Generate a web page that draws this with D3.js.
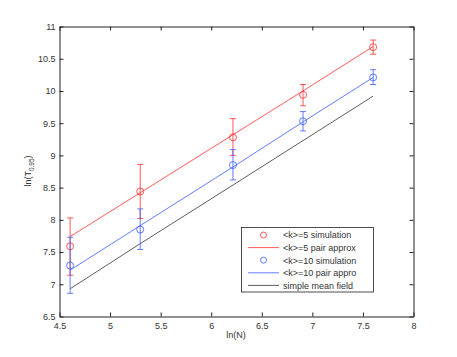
<!DOCTYPE html>
<html>
<head>
<meta charset="utf-8">
<script src="https://cdn.jsdelivr.net/npm/d3@7"></script>
<style>
body { margin: 0; background: #fff; }
text { font-family: "Liberation Sans", Arial, sans-serif; }
</style>
</head>
<body>
<svg width="457" height="357"></svg>
<script>
// ln(N) for N = 100, 200, 500, 1000, 2000
const lnN = [4.605, 5.298, 6.215, 6.908, 7.601];

const k5Sim = [7.59, 8.44, 9.28, 9.94, 10.68];
const k5Lo = [7.14, 8.02, 9.00, 9.77, 10.57];
const k5Hi = [8.03, 8.86, 9.57, 10.10, 10.79];
const k5Pair = [7.74, 8.42, 9.32, 10.00, 10.69];

const k10Sim = [7.29, 7.85, 8.85, 9.53, 10.21];
const k10Lo = [6.86, 7.54, 8.62, 9.38, 10.10];
const k10Hi = [7.73, 8.17, 9.09, 9.68, 10.33];
const k10Pair = [7.22, 7.91, 8.82, 9.52, 10.21];

const meanField = [6.93, 7.63, 8.54, 9.23, 9.92];

const xTicks = [4.5, 5, 5.5, 6, 6.5, 7, 7.5, 8];
const yTicks = [6.5, 7, 7.5, 8, 8.5, 9, 9.5, 10, 10.5, 11];

const legendLabels = ['<k>=5 simulation', '<k>=5 pair approx', '<k>=10 simulation', '<k>=10 pair appro', 'simple mean field'];

const red = '#ff3030', blue = '#3a5cff', black = '#333';

const svg = d3.select('svg');
const mLeft = 59.5, mRight = 413.5, mTop = 26.5, mBottom = 316.5;
const fs = 9;

const x = d3.scaleLinear().domain([4.5, 8]).range([mLeft, mRight]);
const y = d3.scaleLinear().domain([6.5, 11]).range([mBottom, mTop]);

// axes with inward ticks
const axStyle = g => {
  g.selectAll('path').attr('stroke', '#222');
  g.selectAll('line').attr('stroke', '#222');
  g.selectAll('text').attr('fill', '#333').attr('font-size', fs);
};
svg.append('g').attr('transform', `translate(0,${mBottom})`)
  .call(d3.axisBottom(x).tickValues(xTicks).tickSizeInner(-4).tickSizeOuter(0).tickPadding(6).tickFormat(d3.format('')))
  .call(axStyle);
svg.append('g').attr('transform', `translate(0,${mTop})`)
  .call(d3.axisTop(x).tickValues(xTicks).tickSizeInner(-4).tickSizeOuter(0).tickFormat(''))
  .call(axStyle);
svg.append('g').attr('transform', `translate(${mLeft},0)`)
  .call(d3.axisLeft(y).tickValues(yTicks).tickSizeInner(-4).tickSizeOuter(0).tickPadding(4).tickFormat(d3.format('')))
  .call(axStyle);
svg.append('g').attr('transform', `translate(${mRight},0)`)
  .call(d3.axisRight(y).tickValues(yTicks).tickSizeInner(-4).tickSizeOuter(0).tickFormat(''))
  .call(axStyle);

const line = d3.line().x((d, i) => x(lnN[i])).y(d => y(d));

function drawSeries(sim, lo, hi, pair, color) {
  svg.append('path').datum(pair).attr('d', line)
    .attr('fill', 'none').attr('stroke', color).attr('stroke-width', 0.8);
  const g = svg.append('g').attr('stroke', color).attr('fill', 'none').attr('stroke-width', 0.8);
  lnN.forEach((v, i) => {
    const cx = x(v);
    g.append('line').attr('x1', cx).attr('x2', cx).attr('y1', y(lo[i])).attr('y2', y(hi[i]));
    g.append('line').attr('x1', cx - 3).attr('x2', cx + 3).attr('y1', y(lo[i])).attr('y2', y(lo[i]));
    g.append('line').attr('x1', cx - 3).attr('x2', cx + 3).attr('y1', y(hi[i])).attr('y2', y(hi[i]));
    g.append('circle').attr('cx', cx).attr('cy', y(sim[i])).attr('r', 3.5);
  });
}

svg.append('path').datum(meanField).attr('d', line)
  .attr('fill', 'none').attr('stroke', black).attr('stroke-width', 0.8);
drawSeries(k5Sim, k5Lo, k5Hi, k5Pair, red);
drawSeries(k10Sim, k10Lo, k10Hi, k10Pair, blue);

// labels
svg.append('text').attr('x', 236).attr('y', 338).attr('text-anchor', 'middle')
  .attr('font-size', fs).attr('fill', '#333').text('ln(N)');
const yl = svg.append('text').attr('transform', 'translate(31,171) rotate(-90)')
  .attr('text-anchor', 'middle').attr('font-size', fs).attr('fill', '#333');
yl.append('tspan').text('ln(T');
yl.append('tspan').attr('font-size', 6.5).attr('dy', 3).text('0.95');
yl.append('tspan').attr('dy', -3).text(')');

// legend
const lg = svg.append('g');
lg.append('rect').attr('x', 241.5).attr('y', 227.5).attr('width', 132).attr('height', 64.5)
  .attr('fill', '#fff').attr('stroke', '#222').attr('stroke-width', 0.8);
const kinds = ['m', 'l', 'm', 'l', 'l'];
const lcol = [red, red, blue, blue, black];
legendLabels.forEach((t, i) => {
  const ly = 235 + i * 12.6;
  if (kinds[i] === 'm') {
    lg.append('circle').attr('cx', 263.5).attr('cy', ly).attr('r', 3)
      .attr('fill', 'none').attr('stroke', lcol[i]).attr('stroke-width', 0.8);
  } else {
    lg.append('line').attr('x1', 248).attr('x2', 279).attr('y1', ly).attr('y2', ly)
      .attr('stroke', lcol[i]).attr('stroke-width', 0.8);
  }
  lg.append('text').attr('x', 283).attr('y', ly + 3.3).attr('font-size', fs).attr('fill', '#333').text(t);
});
</script>
</body>
</html>
